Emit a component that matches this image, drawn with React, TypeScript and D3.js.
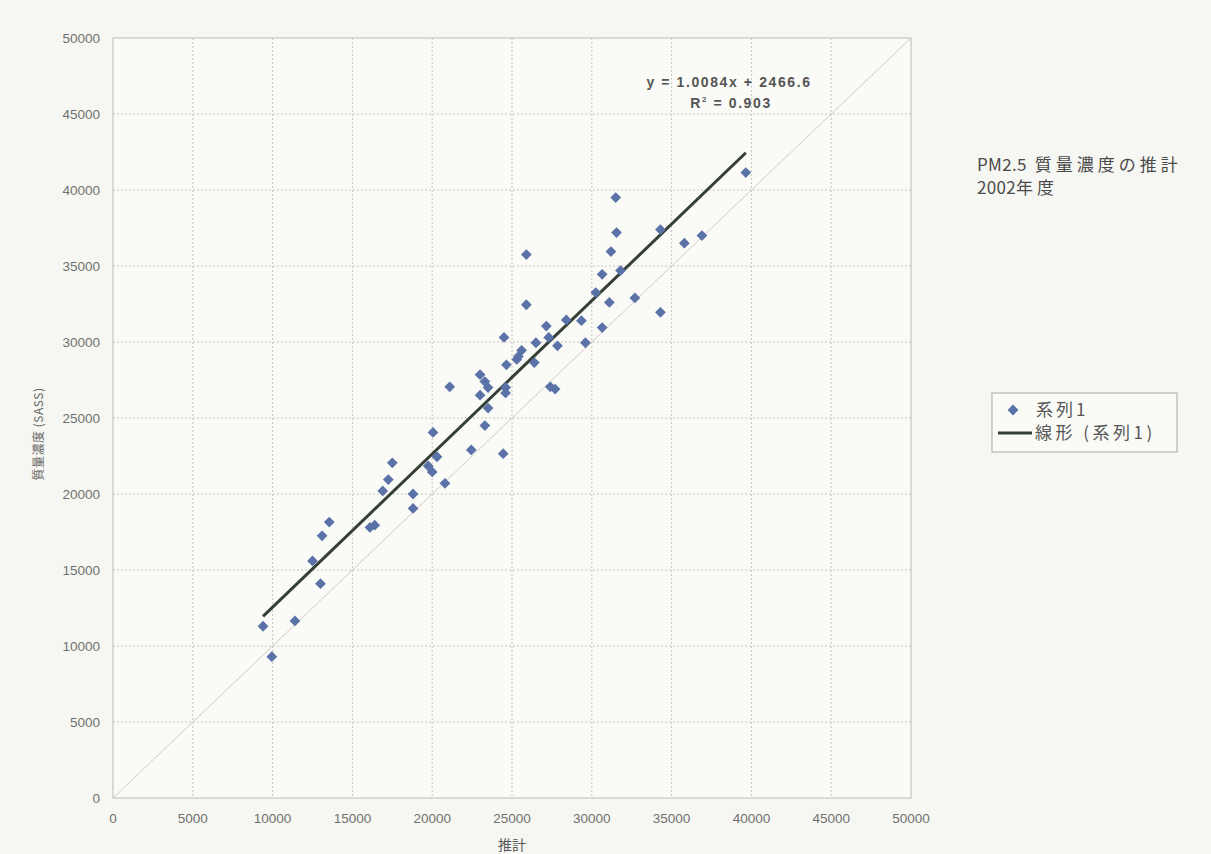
import React from "react";
import * as d3 from "d3";

// Estimated (x) vs measured SASS mass concentration (y), PM2.5, FY2002
const estX = [
  9400, 9950, 11400, 12500, 13000, 13100, 13550, 16100, 16400, 16900, 17250, 17500,
  18800, 18800, 19750, 20000, 20050, 20300, 20800, 21100, 22450, 24450, 23000, 23300,
  23500, 23000, 23500, 23300, 24600, 24600, 24650, 24500, 25400, 25600, 25300, 25900,
  25900, 26400, 26500, 27150, 27300, 27400, 27700, 27850, 28400, 29350, 29600, 30250,
  30650, 30650, 31100, 31200, 31500, 31550, 31800, 32700, 34300, 34300, 35800, 36900,
  39650,
];
const sassY = [
  11300, 9300, 11650, 15600, 14100, 17250, 18150, 17800, 17950, 20200, 20950, 22050,
  20000, 19050, 21850, 21450, 24050, 22450, 20700, 27050, 22900, 22650, 27850, 27400,
  27000, 26500, 25650, 24500, 26650, 27000, 28500, 30300, 29050, 29450, 28850, 32450,
  35750, 28650, 29950, 31050, 30300, 27050, 26900, 29750, 31450, 31400, 29950, 33250,
  34450, 30950, 32600, 35950, 39500, 37200, 34700, 32900, 31950, 37400, 36500, 37000,
  41150,
];

// Linear trend reported for the series
const slope = 1.0084;
const intercept = 2466.6;
const rSquared = 0.903;

const axisTicks = [0, 5000, 10000, 15000, 20000, 25000, 30000, 35000, 40000, 45000, 50000];

const seriesName = "系列1";
const trendName = "線形 (系列1)";
// title lines split into a Latin head and a Japanese tail
const titleLines = [
  ["PM2.5", "質量濃度の推計"],
  ["2002", "年度"],
];
const xTitle = "推計";
const yTitle = "質量濃度 (SASS)";

const W = 1211;
const H = 854;
const plot = { left: 113, right: 911, top: 38, bottom: 798 };

const numFont = "'Liberation Sans', Arial, 'Noto Sans CJK JP', sans-serif";
const jpFont = "'Noto Sans CJK JP', 'Liberation Sans', sans-serif";

export default function App() {
  const x = d3.scaleLinear().domain([0, 50000]).range([plot.left, plot.right]);
  const y = d3.scaleLinear().domain([0, 50000]).range([plot.bottom, plot.top]);

  const points = estX.map((v, i) => ({ x: v, y: sassY[i] }));
  const [xMin, xMax] = d3.extent(estX) as [number, number];
  const trend = [xMin, xMax].map((v) => ({ x: v, y: slope * v + intercept }));
  const line = d3
    .line<{ x: number; y: number }>()
    .x((d) => x(d.x))
    .y((d) => y(d.y));

  const diamond = d3.symbol().type(d3.symbolSquare).size(58)() as string;
  const markerColor = "#5a72a8";

  return (
    <>
      <style>{`body{margin:0;}`}</style>
      <svg width={W} height={H} style={{ display: "block", background: "#f6f7f2" }}>
        <rect x={plot.left} y={plot.top} width={plot.right - plot.left} height={plot.bottom - plot.top} fill="#fafbf7" />

        {/* grid */}
        {axisTicks.slice(1, -1).map((t) => (
          <g key={"g" + t}>
            <line x1={x(t)} x2={x(t)} y1={plot.top} y2={plot.bottom} stroke="#c4c4c0" strokeDasharray="2,2" />
            <line x1={plot.left} x2={plot.right} y1={y(t)} y2={y(t)} stroke="#c4c4c0" strokeDasharray="2,2" />
          </g>
        ))}
        <rect
          x={plot.left}
          y={plot.top}
          width={plot.right - plot.left}
          height={plot.bottom - plot.top}
          fill="none"
          stroke="#b9bab5"
        />

        {/* 1:1 reference line */}
        <line x1={x(0)} y1={y(0)} x2={x(50000)} y2={y(50000)} stroke="#d8c8c8" strokeWidth={1} />

        {/* trend line */}
        <path d={line(trend) as string} fill="none" stroke="#354035" strokeWidth={3} />

        {/* points */}
        {points.map((p, i) => (
          <path
            key={i}
            d={diamond}
            transform={`translate(${x(p.x)},${y(p.y)}) rotate(45)`}
            fill={markerColor}
          />
        ))}

        {/* tick labels */}
        {axisTicks.map((t) => (
          <text
            key={"yl" + t}
            x={plot.left - 13}
            y={y(t)}
            dy="0.35em"
            textAnchor="end"
            fontFamily={numFont}
            fontSize={13.5}
            fill="#707070"
          >
            {t}
          </text>
        ))}
        {axisTicks.map((t) => (
          <text
            key={"xl" + t}
            x={x(t)}
            y={plot.bottom + 25}
            textAnchor="middle"
            fontFamily={numFont}
            fontSize={13.5}
            fill="#707070"
          >
            {t}
          </text>
        ))}

        {/* axis titles */}
        <text x={x(25000)} y={850} textAnchor="middle" fontFamily={jpFont} fontSize={14} fill="#555">
          {xTitle}
        </text>
        <text
          transform={`translate(43,434) rotate(-90)`}
          textAnchor="middle"
          fontFamily={jpFont}
          fontSize={12}
          fill="#666"
          letterSpacing={0.5}
        >
          {yTitle}
        </text>

        {/* regression equation */}
        <text x={729} y={87} textAnchor="middle" fontFamily={numFont} fontSize={14} fontWeight={600} fill="#555" letterSpacing={1.6}>
          {`y = ${slope}x + ${intercept}`}
        </text>
        <text x={731} y={108} textAnchor="middle" fontFamily={numFont} fontSize={14} fontWeight={600} fill="#555" letterSpacing={1.6}>
          R<tspan dy={-6} fontSize={8}>2</tspan>
          <tspan dy={6}>{` = ${rSquared}`}</tspan>
        </text>

        {/* title */}
        {titleLines.map(([head, tail], i) => (
          <text key={head} x={977} y={171 + i * 23} fontFamily={jpFont} fontSize={17} fill="#4a4a4a">
            <tspan letterSpacing={0.3}>{head}</tspan>
            <tspan letterSpacing={4} dx={i === 0 ? 8 : 0}>{tail}</tspan>
          </text>
        ))}

        {/* legend */}
        <rect x={992} y={393} width={185} height={59} fill="#fafbf7" stroke="#a8a8a8" />
        <path d={diamond} transform="translate(1013,410) rotate(45)" fill={markerColor} />
        <text x={1036} y={410} dy="0.35em" fontFamily={jpFont} fontSize={17} fill="#555" letterSpacing={3}>
          {seriesName}
        </text>
        <line x1={998} x2={1032} y1={433} y2={433} stroke="#354035" strokeWidth={3} />
        <text x={1035} y={433} dy="0.35em" fontFamily={jpFont} fontSize={17} fill="#555" letterSpacing={3.5}>
          {trendName}
        </text>
      </svg>
    </>
  );
}
